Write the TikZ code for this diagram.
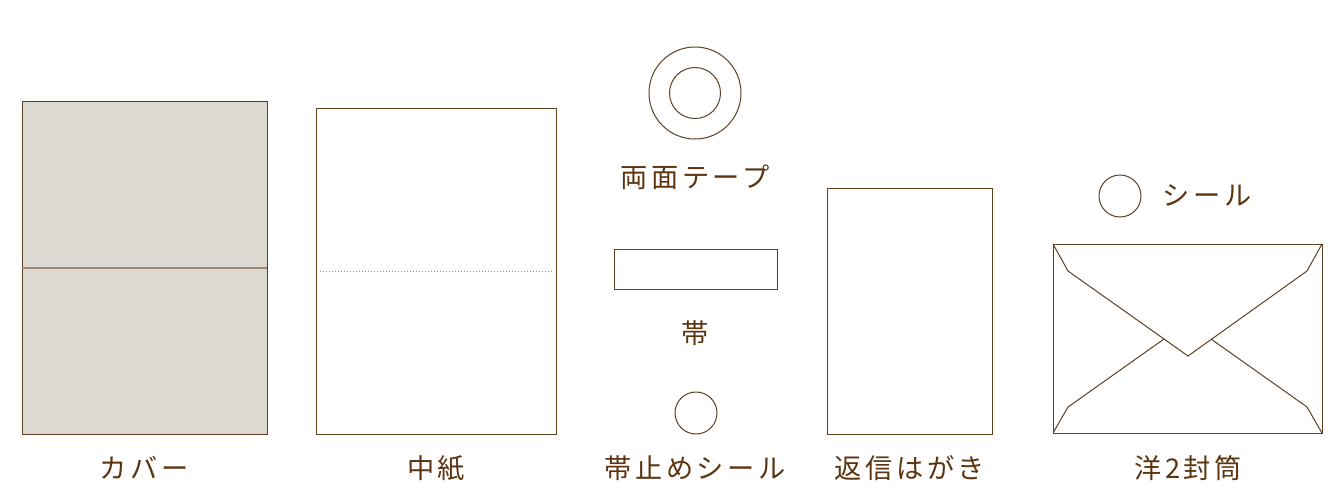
\documentclass[tikz,border=0pt]{standalone}
\usepackage{fontspec}
\newfontfamily\jpfont[LetterSpace=13]{Noto Sans CJK JP}
\definecolor{linebrown}{HTML}{5E3F22}
\definecolor{textbrown}{HTML}{5C3410}
\definecolor{coverfill}{HTML}{DCD9D3}
\definecolor{foldbrown}{HTML}{9C8670}

\begin{document}
\begin{tikzpicture}[
		x=0.5pt, y=-0.5pt,
		itemline/.style={
		% The border:
		draw=linebrown,
		line width=0.5pt
		},
		itemlabel/.style={
		% Font
		font=\jpfont\fontsize{13.6}{15}\selectfont,
		text=textbrown,
		inner sep=0pt
		}
	]
	\useasboundingbox (0,0) rectangle (1344,500);

	% cover
	\draw [itemline, fill=coverfill] (22,101) rectangle (267,434);
	\draw [draw=foldbrown, line width=0.8pt] (22,268) -- (267,268);
	\node (coverlbl)[itemlabel] at (144,468) {カバー};

	% inner sheet
	\draw [itemline] (316,108) rectangle (556,434);
	\draw [draw=foldbrown, line width=0.5pt, dash pattern=on 0.5pt off 1pt] (320,271) -- (552,271);
	\node (sheetlbl)[itemlabel] at (436,468) {中紙};

	% tape
	\node (tapeout)[itemline, circle, minimum size=46pt, inner sep=0pt] at (695,93) {};
	\node (tapein)[itemline, circle, minimum size=25.5pt, inner sep=0pt] at (tapeout.center) {};
	\node (tapelbl)[itemlabel] at (695,177) {両面テープ};

	% band
	\draw [itemline] (614,249) rectangle (777,289);
	\node (bandlbl)[itemlabel] at (695,333) {帯};

	% band seal
	\node (bandseal)[itemline, circle, minimum size=21pt, inner sep=0pt] at (696,413) {};
	\node (bandseallbl)[itemlabel] at (695,468) {帯止めシール};

	% reply card
	\draw [itemline] (827,188) rectangle (992,434);
	\node (cardlbl)[itemlabel] at (910,468) {返信はがき};

	% seal
	\node (seal)[itemline, circle, minimum size=21pt, inner sep=0pt] at (1120,196) {};
	\node (seallbl)[itemlabel] at (1207,195) {シール};

	% envelope
	\draw [itemline] (1053,244) rectangle (1322,433);
	\draw [itemline] (1053,244) -- (1068,271) -- (1188,356) -- (1307,271) -- (1322,244);
	\draw [itemline] (1053,433) -- (1068,407) -- (1164,339);
	\draw [itemline] (1322,433) -- (1307,407) -- (1211,339);
	\node (envlbl)[itemlabel] at (1188,468) {洋2封筒};
\end{tikzpicture}
\end{document}
